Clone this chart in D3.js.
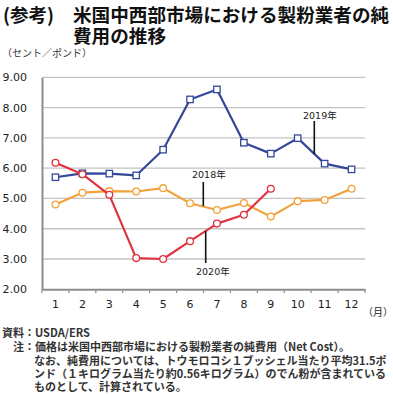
<!DOCTYPE html>
<html><head><meta charset="utf-8">
<script src="https://cdn.jsdelivr.net/npm/d3@7"></script>
<style>body{margin:0;background:#fff}svg{display:block}</style>
</head><body>
<script>
const months = [1,2,3,4,5,6,7,8,9,10,11,12];
const yTicks = [2,3,4,5,6,7,8,9];
const s2019 = [5.70,5.83,5.82,5.76,6.61,8.27,8.60,6.84,6.48,6.99,6.15,5.96];
const s2018 = [4.80,5.19,5.24,5.23,5.34,4.84,4.62,4.85,4.40,4.91,4.95,5.32];
const s2020 = [6.18,5.80,5.12,3.03,3.00,3.59,4.17,4.46,5.32];
const seriesNames = ["2019年","2018年","2020年"];

const W=393,H=395;
const svg=d3.select("body").append("svg").attr("width",W).attr("height",H);
const x=d3.scaleBand().domain(months).range([42,365]).padding(0);
const y=d3.scaleLinear().domain([2,9]).range([289.3,77.3]);
const cx=m=>x(m)+x.bandwidth()/2;
const jp='"Noto Sans CJK JP", sans-serif';

// title
svg.append("text").attr("x",3).attr("y",22).attr("font-family",jp).attr("font-weight",700)
  .attr("font-size",18.5).attr("fill","#111").text("(参考)");
svg.append("text").attr("x",73).attr("y",22).attr("font-family",jp).attr("font-weight",700)
  .attr("font-size",18.6).attr("fill","#111").text("米国中西部市場における製粉業者の純");
svg.append("text").attr("x",73).attr("y",43).attr("font-family",jp).attr("font-weight",700)
  .attr("font-size",18.6).attr("fill","#111").text("費用の推移");
svg.append("text").attr("x",2).attr("y",57).attr("font-family",jp)
  .attr("font-size",10).attr("fill","#333").text("（セント／ポンド）");

// gridlines
svg.append("g").selectAll("line").data(yTicks.filter(d=>d>2)).join("line")
  .attr("x1",42).attr("x2",365).attr("y1",d=>y(d)).attr("y2",d=>y(d))
  .attr("stroke","#c3c3c3").attr("stroke-width",1.3);

// y axis
const ya=svg.append("g").attr("transform","translate(42,0)")
  .call(d3.axisLeft(y).tickValues(yTicks).tickFormat(d3.format(".2f")).tickSize(0).tickPadding(15));
ya.select(".domain").attr("stroke","#8c8c8c").attr("stroke-width",2);
ya.selectAll("text").attr("font-family","DejaVu Sans").attr("font-size",11).attr("fill","#222");

// x axis
const xa=svg.append("g").attr("transform","translate(0,289.3)")
  .call(d3.axisBottom(x).tickSize(0).tickPadding(11));
xa.select(".domain").attr("stroke","#8c8c8c").attr("stroke-width",2);
xa.selectAll("text").attr("font-family","DejaVu Sans").attr("font-size",11).attr("fill","#222");
svg.append("g").selectAll("line").data(d3.range(13)).join("line")
  .attr("x1",i=>42+i*x.bandwidth()).attr("x2",i=>42+i*x.bandwidth())
  .attr("y1",289.3).attr("y2",293).attr("stroke","#8c8c8c").attr("stroke-width",1.2);
svg.append("text").attr("x",363).attr("y",316).attr("font-family",jp)
  .attr("font-size",10).attr("fill","#222").text("（月）");

const line=d3.line().x((d,i)=>cx(months[i])).y(d=>y(d));
function drawSeries(vals,color,shape){
  svg.append("path").datum(vals).attr("d",line).attr("fill","none")
    .attr("stroke",color).attr("stroke-width",2.2).attr("stroke-linejoin","round");
  const g=svg.append("g");
  if(shape==="square"){
    g.selectAll("rect").data(vals).join("rect")
      .attr("x",(d,i)=>cx(months[i])-3.2).attr("y",d=>y(d)-3.2)
      .attr("width",6.4).attr("height",6.4).attr("fill","#fff")
      .attr("stroke",color).attr("stroke-width",1.3);
  } else {
    g.selectAll("circle").data(vals).join("circle")
      .attr("cx",(d,i)=>cx(months[i])).attr("cy",d=>y(d)).attr("r",3.4)
      .attr("fill","#fff").attr("stroke",color).attr("stroke-width",1.3);
  }
}
drawSeries(s2019,"#33489a","square");
drawSeries(s2018,"#f2a23a","circle");
drawSeries(s2020,"#e0333f","circle");

// annotations
function annot(txt,tx,ty,lx,ly1,ly2){
  svg.append("line").attr("x1",lx).attr("x2",lx).attr("y1",ly1).attr("y2",ly2)
    .attr("stroke","#111").attr("stroke-width",1.6);
  svg.append("text").attr("x",tx).attr("y",ty).attr("font-family","DejaVu Sans, "+jp)
    .attr("font-size",9.5).attr("fill","#222").text(txt);
}
annot(seriesNames[0],303,119,314.3,121,154);
annot(seriesNames[1],192,178,203.3,182,206);
annot(seriesNames[2],196,275,205.7,231,263);

// footer
const fn=[
 {x:2,t:"資料：USDA/ERS",y:337},
 {x:13,t:"注：価格は米国中西部市場における製粉業者の純費用（Net Cost）。",y:351},
 {x:34,t:"なお、純費用については、トウモロコシ１ブッシェル当たり平均31.5ポ",y:365},
 {x:34,t:"ンド（１キログラム当たり約0.56キログラム）のでん粉が含まれている",y:378},
 {x:34,t:"ものとして、計算されている。",y:391}
];
svg.append("g").selectAll("text").data(fn).join("text")
  .attr("x",d=>d.x).attr("y",d=>d.y).attr("font-family",jp).attr("font-weight",700)
  .attr("font-size",11).attr("fill","#333").text(d=>d.t);
</script>
</body></html>
